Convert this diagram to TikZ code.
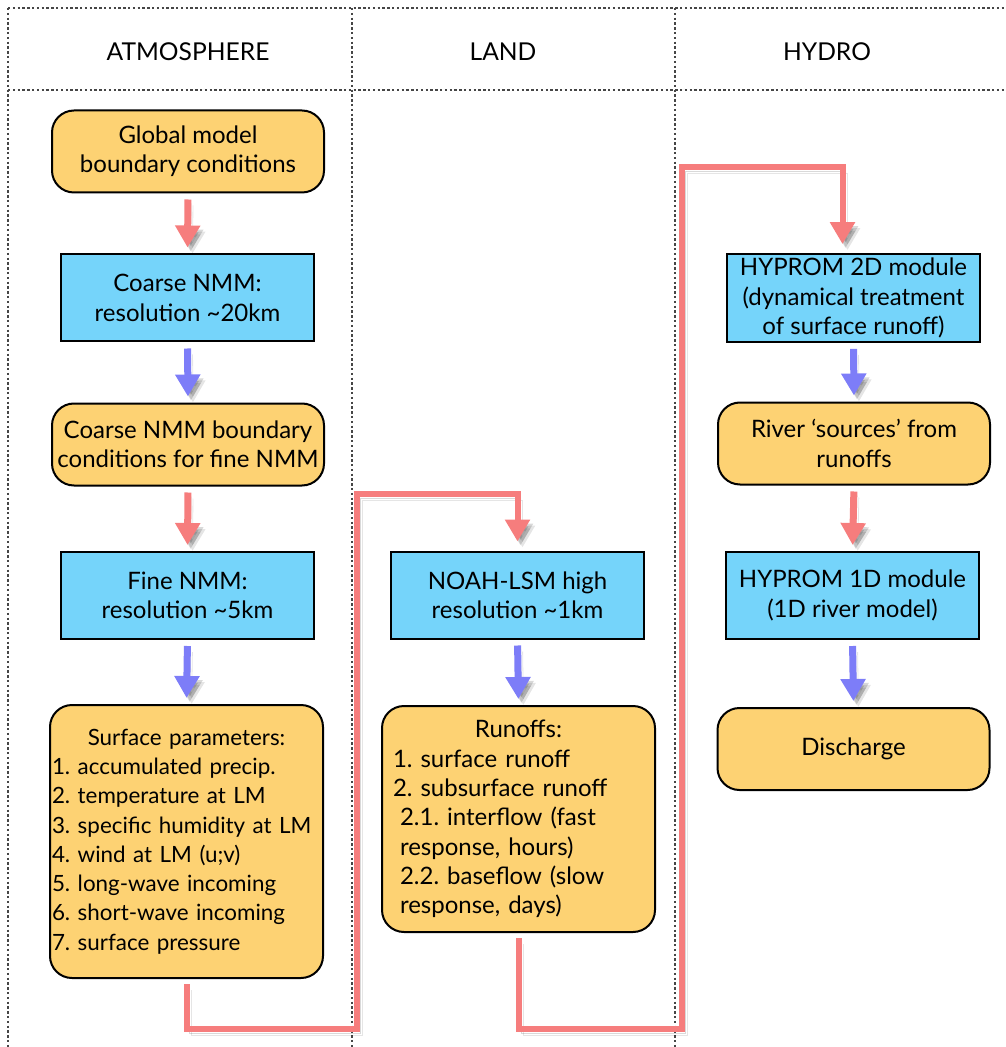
\documentclass[tikz,border=0pt]{standalone}
\usepackage{fontspec}
\setmainfont{Lato}
\usetikzlibrary{arrows.meta}
\definecolor{boxorange}{RGB}{253,210,115}
\definecolor{boxblue}{RGB}{117,212,250}
\definecolor{arrred}{RGB}{246,125,125}
\definecolor{arrblue}{RGB}{125,125,248}
\definecolor{gridgray}{RGB}{70,70,70}
\frenchspacing

\begin{document}
\begin{tikzpicture}[x=0.5pt,y=-0.5pt,font=\fontsize{12}{14.65}\selectfont]
\tikzstyle{orbox}=[draw,line width=1pt,fill=boxorange,rounded corners=11pt,minimum width=136pt,minimum height=41pt,align=center,inner sep=2pt]
\tikzstyle{blbox}=[draw,line width=1pt,fill=boxblue,minimum width=126.5pt,minimum height=43.5pt,align=center,inner sep=2pt]
\tikzstyle{head}=[font=\fontsize{12.3}{14}\selectfont]
\tikzstyle{shd}=[preaction={draw=black,opacity=0.10,transform canvas={shift={(5,6)}}},
                 preaction={draw=black,opacity=0.15,transform canvas={shift={(3,4)}}}]
\tikzstyle{redarr}=[arrred,line width=3.5pt,-{Triangle[width=12pt,length=11pt]},shorten <=3pt,shorten >=3pt,shd]
\tikzstyle{bluarr}=[redarr,arrblue]
\tikzstyle{redline}=[arrred,line width=3pt,-{Triangle[width=12pt,length=11pt]},shorten <=2.5pt,shorten >=4.5pt,shd]
\tikzstyle{sep}=[gridgray,line width=0.9pt,dash pattern=on 1.2pt off 1.2pt]

\useasboundingbox (0,0) rectangle (1005,1047);

% frame
\draw[sep] (8,8) -- (1005,8);
\draw[sep] (8,90) -- (1005,90);
\foreach \xx in {8,352,675} \draw[sep] (\xx,8) -- (\xx,1047);

\path (188,52) node[head] (hatm) {ATMOSPHERE}
      (503,52) node[head] (hland) {LAND}
      (827,52) node[head] (hhyd) {HYDRO};

% atmosphere
\path (188,151.5) node[orbox] (glob) {Global model\\boundary conditions}
      (187.5,298) node[blbox] (cnmm) {Coarse NMM:\\resolution \textasciitilde20km}
      (188,444.5) node[orbox] (cbc) {Coarse NMM boundary\\conditions for fine NMM}
      (187.5,595.5) node[blbox] (fnmm) {Fine NMM:\\resolution \textasciitilde5km}
      (186.5,841.5) node[orbox,align=left,text width=134.5pt,inner xsep=1pt,minimum height=136.5pt,
                         font=\fontsize{11.2}{14.65}\selectfont] (surf)
        {\makebox[\linewidth]{Surface parameters:}\\
         1. accumulated precip.\\
         2. temperature at LM\\
         3. specific humidity at LM\\
         4. wind at LM (u;v)\\
         5. long-wave incoming\\
         6. short-wave incoming\\
         7. surface pressure};

% land
\path (517.5,595) node[blbox] (noah) {NOAH-LSM high\\resolution \textasciitilde1km}
      (518.5,819) node[orbox,align=left,text width=125.5pt,inner xsep=5.5pt,minimum height=113pt] (runoff)
        {\makebox[\linewidth]{Runoffs:}\\
         1. surface runoff\\
         2. subsurface runoff\\
         \hspace*{3.5pt}2.1. interflow (fast\\
         \hspace*{3.5pt}response, hours)\\
         \hspace*{3.5pt}2.2. baseflow (slow\\
         \hspace*{3.5pt}response, days)};

% hydro
\path (853.5,298) node[blbox] (hyp2) {HYPROM 2D module\\(dynamical treatment\\of surface runoff)}
      (854,443.5) node[orbox] (rsrc) {River `sources' from\\runoffs}
      (852.5,595.5) node[blbox] (hyp1) {HYPROM 1D module\\(1D river model)}
      (853.5,749) node[orbox] (disch) {Discharge};

\draw[redarr] (glob.south) -- (cnmm.north);
\draw[bluarr] (cnmm.south) -- (cbc.north);
\draw[redarr] (cbc.south) -- (fnmm.north);
\draw[bluarr] (fnmm.south) -- (surf.north);
\draw[bluarr] (noah.south) -- (runoff.north);
\draw[bluarr] (hyp2.south) -- (rsrc.north);
\draw[redarr] (rsrc.south) -- (hyp1.north);
\draw[bluarr] (hyp1.south) -- (disch.north);

% long links
\coordinate (l1) at (357,1029);
\coordinate (l2) at (357,494);
\coordinate (h1) at (682,1029);
\coordinate (h2) at (682,167);
\draw[redline] (surf.south) |- (l1) -- (l2) -| (noah.north);
\draw[redline] (runoff.south) |- (h1) -- (h2) -| ([xshift=-5.5pt]hyp2.north);
\end{tikzpicture}
\end{document}
